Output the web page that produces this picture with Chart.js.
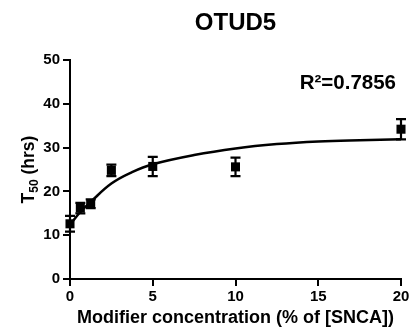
<!DOCTYPE html>
<html>
<head>
<meta charset="utf-8">
<script src="https://cdn.jsdelivr.net/npm/chart.js@4"></script>
<style>
html,body{margin:0;padding:0;background:#fff;}
#wrap{width:412px;height:331px;position:relative;}
</style>
</head>
<body>
<div id="wrap"><canvas id="c" width="412" height="331"></canvas></div>
<script>
// Data
const concentrations = [0, 0.625, 1.25, 2.5, 5, 10, 20];
const t50Means = [12.6, 16.2, 17.2, 24.8, 25.7, 25.6, 34.2];
const t50Errors = [1.8, 1.2, 1.0, 1.3, 2.2, 2.1, 2.3];
const fitX = [0, 0.625, 1.25, 2.5, 3.75, 5, 7.5, 10, 12.5, 15, 17.5, 20];
const fitY = [12.4, 15.3, 17.6, 21.8, 24.4, 26.2, 28.3, 29.8, 30.8, 31.4, 31.7, 31.9];
const xTicks = [0, 5, 10, 15, 20];
const yTicks = [0, 10, 20, 30, 40, 50];
const titleText = 'OTUD5';
const xTitle = 'Modifier concentration (% of [SNCA])';
const r2Text = 'R\u00B2=0.7856';

const FONT = "'Liberation Sans', Arial, Helvetica, sans-serif";

const errorBars = {
  id: 'errorBars',
  afterDatasetsDraw(chart) {
    const {ctx, scales: {x, y}} = chart;
    ctx.save();
    ctx.strokeStyle = '#000';
    ctx.lineWidth = 2.2;
    concentrations.forEach((c, i) => {
      const px = x.getPixelForValue(c);
      const yTop = y.getPixelForValue(t50Means[i] + t50Errors[i]);
      const yBot = y.getPixelForValue(t50Means[i] - t50Errors[i]);
      ctx.beginPath();
      ctx.moveTo(px, yTop); ctx.lineTo(px, yBot);
      ctx.moveTo(px - 5, yTop); ctx.lineTo(px + 5, yTop);
      ctx.moveTo(px - 5, yBot); ctx.lineTo(px + 5, yBot);
      ctx.stroke();
    });
    ctx.restore();
  }
};

const extraText = {
  id: 'extraText',
  afterDraw(chart) {
    const {ctx, chartArea} = chart;
    ctx.save();
    ctx.fillStyle = '#000';
    // R² annotation
    ctx.font = 'bold 20.5px ' + FONT;
    ctx.textAlign = 'right';
    ctx.textBaseline = 'middle';
    ctx.fillText(r2Text, chartArea.right - 5, 83);
    // Y-axis title with subscript
    const big = 'bold 17.5px ' + FONT;
    const small = 'bold 12px ' + FONT;
    ctx.font = big; const wT = ctx.measureText('T').width;
    const wRest = ctx.measureText(' (hrs)').width;
    ctx.font = small; const wSub = ctx.measureText('50').width;
    const total = wT + wSub + wRest;
    const cy = (chartArea.top + chartArea.bottom) / 2;
    ctx.translate(28, cy);
    ctx.rotate(-Math.PI / 2);
    ctx.textAlign = 'left';
    ctx.textBaseline = 'alphabetic';
    let cx = -total / 2;
    const base = 6;
    ctx.font = big; ctx.fillText('T', cx, base); cx += wT;
    ctx.font = small; ctx.fillText('50', cx, base + 4); cx += wSub;
    ctx.font = big; ctx.fillText(' (hrs)', cx, base);
    ctx.restore();
  }
};

new Chart(document.getElementById('c'), {
  type: 'scatter',
  data: {
    datasets: [
      {
        type: 'line',
        data: fitX.map((v, i) => ({x: v, y: fitY[i]})),
        borderColor: '#000',
        borderWidth: 2.5,
        pointRadius: 0,
        fill: false,
        tension: 0.4,
        clip: false
      },
      {
        data: concentrations.map((v, i) => ({x: v, y: t50Means[i]})),
        pointStyle: 'rect',
        pointRadius: 6.4,
        backgroundColor: '#000',
        borderColor: '#000',
        borderWidth: 0,
        showLine: false,
        clip: false
      }
    ]
  },
  options: {
    responsive: false,
    animation: false,
    devicePixelRatio: 1,
    layout: {padding: {left: 0, right: 11, top: 0, bottom: 0}},
    plugins: {
      legend: {display: false},
      tooltip: {enabled: false},
      title: {
        display: true,
        text: titleText,
        fullSize: false,
        color: '#000',
        font: {family: FONT, size: 24, weight: 'bold'},
        padding: {top: 9, bottom: 22.2}
      }
    },
    scales: {
      x: {
        type: 'linear',
        min: 0, max: 20,
        afterBuildTicks(scale) { scale.ticks = xTicks.map(v => ({value: v})); },
        afterFit(scale) { scale.height = 52; },
        border: {display: true, color: '#000', width: 2},
        grid: {drawOnChartArea: false, drawTicks: true, tickLength: 7, tickColor: '#000', lineWidth: 2},
        ticks: {color: '#000', font: {family: FONT, size: 15, weight: 'bold'}, padding: 2, maxRotation: 0},
        title: {display: true, text: xTitle, color: '#000', font: {family: FONT, size: 18, weight: 'bold'}, padding: {top: 0, bottom: 2}}
      },
      y: {
        type: 'linear',
        min: 0, max: 50,
        afterBuildTicks(scale) { scale.ticks = yTicks.map(v => ({value: v})); },
        afterFit(scale) { scale.width = 70; },
        border: {display: true, color: '#000', width: 2},
        grid: {drawOnChartArea: false, drawTicks: true, tickLength: 7, tickColor: '#000', lineWidth: 2},
        ticks: {color: '#000', font: {family: FONT, size: 15, weight: 'bold'}, padding: 3}
      }
    }
  },
  plugins: [errorBars, extraText]
});
</script>
</body>
</html>
